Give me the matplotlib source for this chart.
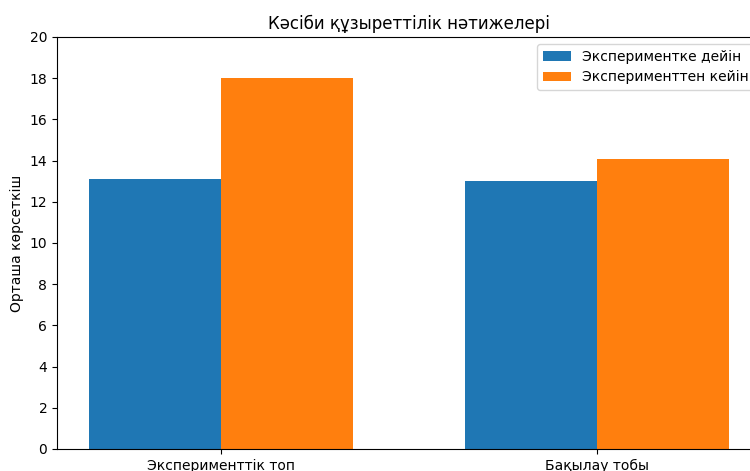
import numpy as np
import matplotlib.pyplot as plt

# деректер
groups = ['Эксперименттік топ', 'Бақылау тобы']
before = [13.1, 13.0]
after = [18.0, 14.1]
series_labels = ['Экспериментке дейін', 'Эксперименттен кейін']
yticks = [0, 2, 4, 6, 8, 10, 12, 14, 16, 18, 20]

x = np.arange(len(groups))
width = 0.35

fig = plt.figure(figsize=(7.5, 4.71), dpi=100)
# axes run slightly past the right edge, as in the reference crop
ax = fig.add_axes([57/750, 22/471, 704/750, 412/471])

ax.bar(x - width/2, before, width, label=series_labels[0], color='#1f77b4')
ax.bar(x + width/2, after, width, label=series_labels[1], color='#ff7f0e')

ax.set_xticks(x)
ax.set_xticklabels(groups)
ax.set_ylim(0, 20)
ax.set_yticks(yticks)
ax.set_ylabel('Орташа көрсеткіш')
ax.set_title('Кәсіби құзыреттілік нәтижелері')
ax.legend(loc='upper right')

fig.savefig('out.png', dpi=100)
